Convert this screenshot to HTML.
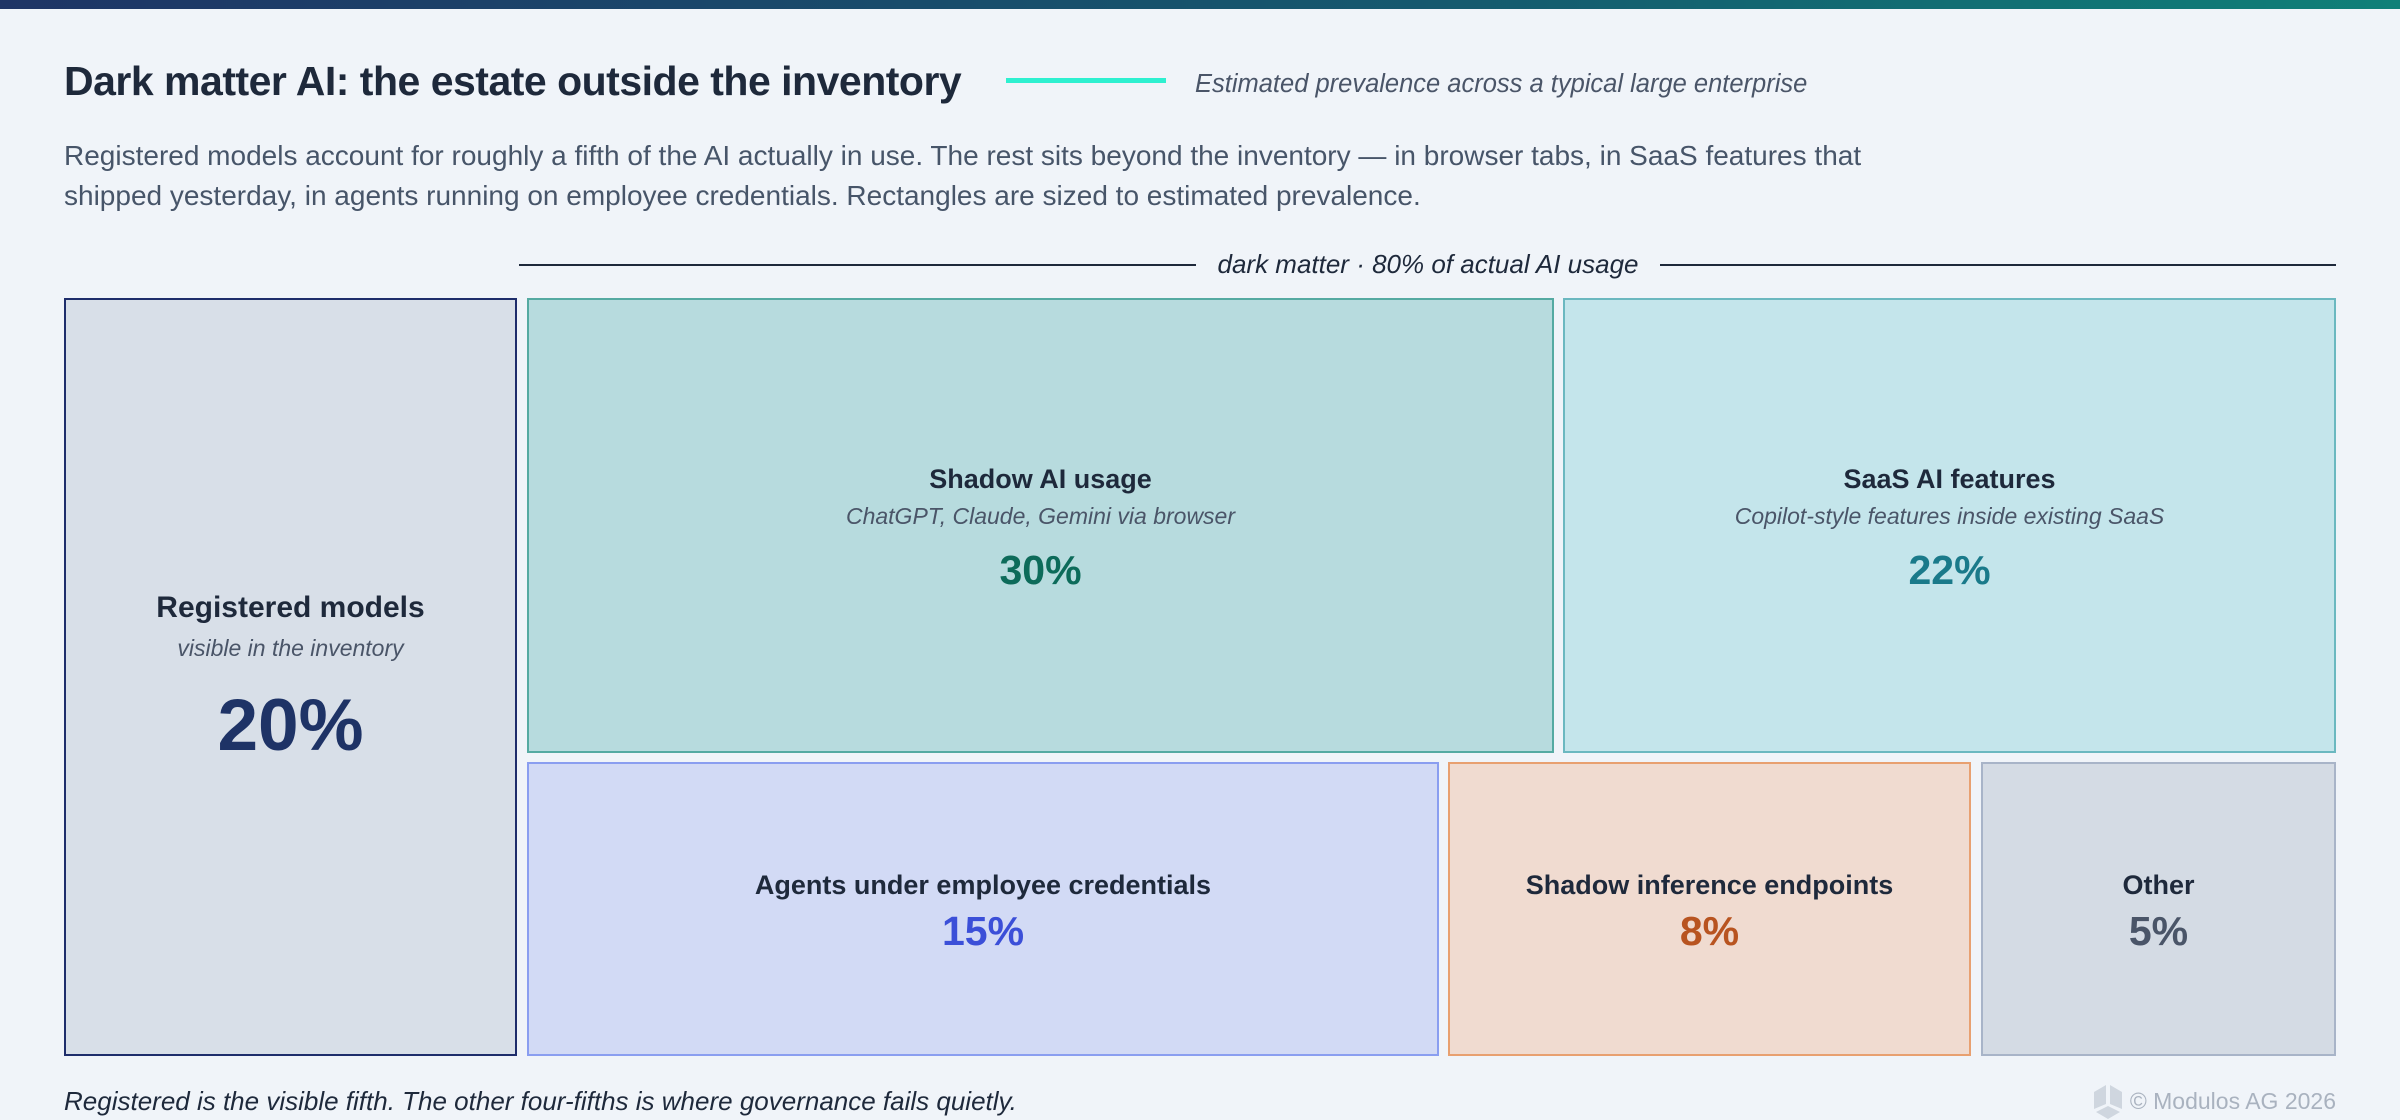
<!DOCTYPE html>
<html><head><meta charset="utf-8"><style>
*{margin:0;padding:0;box-sizing:border-box}
body{width:2400px;height:1120px;background:#f0f4f9;font-family:"Liberation Sans",sans-serif;position:relative;overflow:hidden;color:#1e293b}
.a{position:absolute;white-space:nowrap}
.bar{left:0;top:0;width:2400px;height:9px;background:linear-gradient(90deg,#1f3566,#15596e 60%,#0f8078)}
.box{position:absolute;border:2px solid}
.t{position:absolute;left:0;right:0;text-align:center;white-space:nowrap}
.h{font-weight:bold;font-size:27px;line-height:30px;color:#1e293b}
.s{font-style:italic;font-size:23px;line-height:26px;color:#4a5568}
.p{font-weight:bold;font-size:41px;line-height:44px}
</style></head><body>
<div class="a bar"></div>
<div class="a" style="left:64px;top:56px;font-size:41px;font-weight:bold;line-height:50px;color:#1e293b;letter-spacing:-0.5px">Dark matter AI: the estate outside the inventory</div>
<div class="a" style="left:1006px;top:78px;width:160px;height:5px;background:#2ef0d0"></div>
<div class="a" style="left:1195px;top:69px;font-size:25.5px;font-style:italic;color:#4a5568;line-height:30px">Estimated prevalence across a typical large enterprise</div>
<div class="a" style="left:64px;top:136px;font-size:28px;line-height:40px;color:#475569">Registered models account for roughly a fifth of the AI actually in use. The rest sits beyond the inventory — in browser tabs, in SaaS features that<br>shipped yesterday, in agents running on employee credentials. Rectangles are sized to estimated prevalence.</div>
<div class="a" style="left:519px;top:264px;width:1817px;height:2px;background:#1e293b"></div>
<div class="a" style="left:1196px;top:249px;width:464px;text-align:center;background:#f0f4f9;font-size:26px;font-style:italic;line-height:30px;color:#1e293b">dark matter · 80% of actual AI usage</div>

<div class="box" style="left:64px;top:298px;width:453px;height:758px;background:#d8dfe8;border-color:#1e2d6b">
<div class="t h" style="top:293px;font-size:30px">Registered models</div>
<div class="t s" style="top:335px">visible in the inventory</div>
<div class="t" style="top:388px;font-size:73px;line-height:76px;font-weight:bold;color:#1e3366">20%</div>
</div>
<div class="box" style="left:527px;top:298px;width:1027px;height:455px;background:#b7dbde;border-color:#55aaa2">
<div class="t h" style="top:164px">Shadow AI usage</div>
<div class="t s" style="top:203px">ChatGPT, Claude, Gemini via browser</div>
<div class="t p" style="top:248px;color:#0d6b5a">30%</div>
</div>
<div class="box" style="left:1563px;top:298px;width:773px;height:455px;background:#c4e5eb;border-color:#6bb8c0">
<div class="t h" style="top:164px">SaaS AI features</div>
<div class="t s" style="top:203px">Copilot-style features inside existing SaaS</div>
<div class="t p" style="top:248px;color:#1a7a8a">22%</div>
</div>
<div class="box" style="left:527px;top:762px;width:912px;height:294px;background:#d2daf5;border-color:#8a9ef0">
<div class="t h" style="top:106px">Agents under employee credentials</div>
<div class="t p" style="top:145px;color:#3b4fd8">15%</div>
</div>
<div class="box" style="left:1448px;top:762px;width:523px;height:294px;background:#f0dbd0;border-color:#e8a070">
<div class="t h" style="top:106px">Shadow inference endpoints</div>
<div class="t p" style="top:145px;color:#b85420">8%</div>
</div>
<div class="box" style="left:1981px;top:762px;width:355px;height:294px;background:#d4dbe4;border-color:#a8b4c8">
<div class="t h" style="top:106px">Other</div>
<div class="t p" style="top:145px;color:#4a5568">5%</div>
</div>

<div class="a" style="left:64px;top:1086px;font-size:26px;font-style:italic;line-height:30px;color:#1e293b">Registered is the visible fifth. The other four-fifths is where governance fails quietly.</div>
<svg class="a" style="left:2094px;top:1084px" width="30" height="36" viewBox="0 0 30 36"><polygon points="0,8 12,1 12,20 0,25" fill="#cfd6df"/><polygon points="16,1 28,8 28,25 16,20" fill="#cfd6df"/><polygon points="2,28 14,22 26,28 14,35" fill="#cfd6df"/></svg>
<div class="a" style="left:2120px;top:1086px;width:216px;text-align:right;font-size:23px;line-height:30px;color:#a9b2bf">© Modulos AG 2026</div>
</body></html>
